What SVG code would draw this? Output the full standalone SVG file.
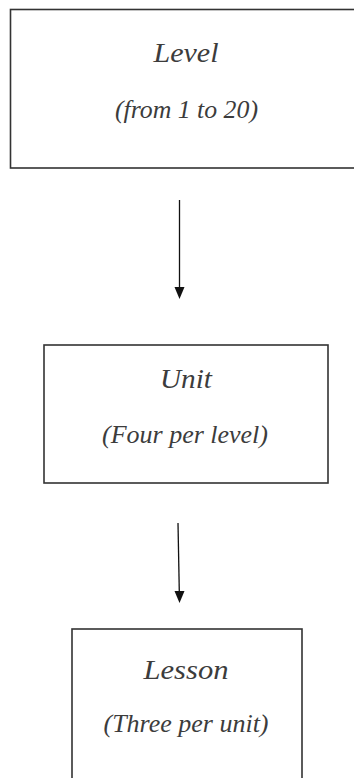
<svg xmlns="http://www.w3.org/2000/svg" width="354" height="778" viewBox="0 0 354 778">
<style>
.box{fill:#fff;stroke:#333;stroke-width:1.6}
.t{font-family:"Liberation Serif","Times New Roman",serif;font-style:italic;fill:#3c3c3c;text-anchor:middle}
.big{font-size:28px}
.sub{font-size:25px}
.conn{stroke:#111;stroke-width:1.3;fill:none}
.head{fill:#111}
</style>
<rect width="354" height="778" fill="#fff"/>
<g id="level">
<rect class="box" x="10.5" y="9.5" width="360" height="158.5"/>
<text class="t big" x="186" y="62" textLength="65" lengthAdjust="spacingAndGlyphs">Level</text>
<text class="t sub" x="186.5" y="118" textLength="143" lengthAdjust="spacingAndGlyphs">(from 1 to 20)</text>
</g>
<g id="unit">
<rect class="box" x="44" y="345" width="284" height="138"/>
<text class="t big" x="186" y="388" textLength="52" lengthAdjust="spacingAndGlyphs">Unit</text>
<text class="t sub" x="185" y="443" textLength="166" lengthAdjust="spacingAndGlyphs">(Four per level)</text>
</g>
<g id="lesson">
<rect class="box" x="72" y="629" width="230" height="160"/>
<text class="t big" x="186" y="679" textLength="85" lengthAdjust="spacingAndGlyphs">Lesson</text>
<text class="t sub" x="186" y="732" textLength="165" lengthAdjust="spacingAndGlyphs">(Three per unit)</text>
</g>
<g id="connectors">
<line class="conn" x1="179.5" y1="200" x2="179.5" y2="288"/>
<polygon class="head" points="174.5,287 184.5,287 179.5,299"/>
<line class="conn" x1="178" y1="523" x2="179.3" y2="592"/>
<polygon class="head" points="174.5,591 184.5,591 179.5,603"/>
</g>
</svg>
